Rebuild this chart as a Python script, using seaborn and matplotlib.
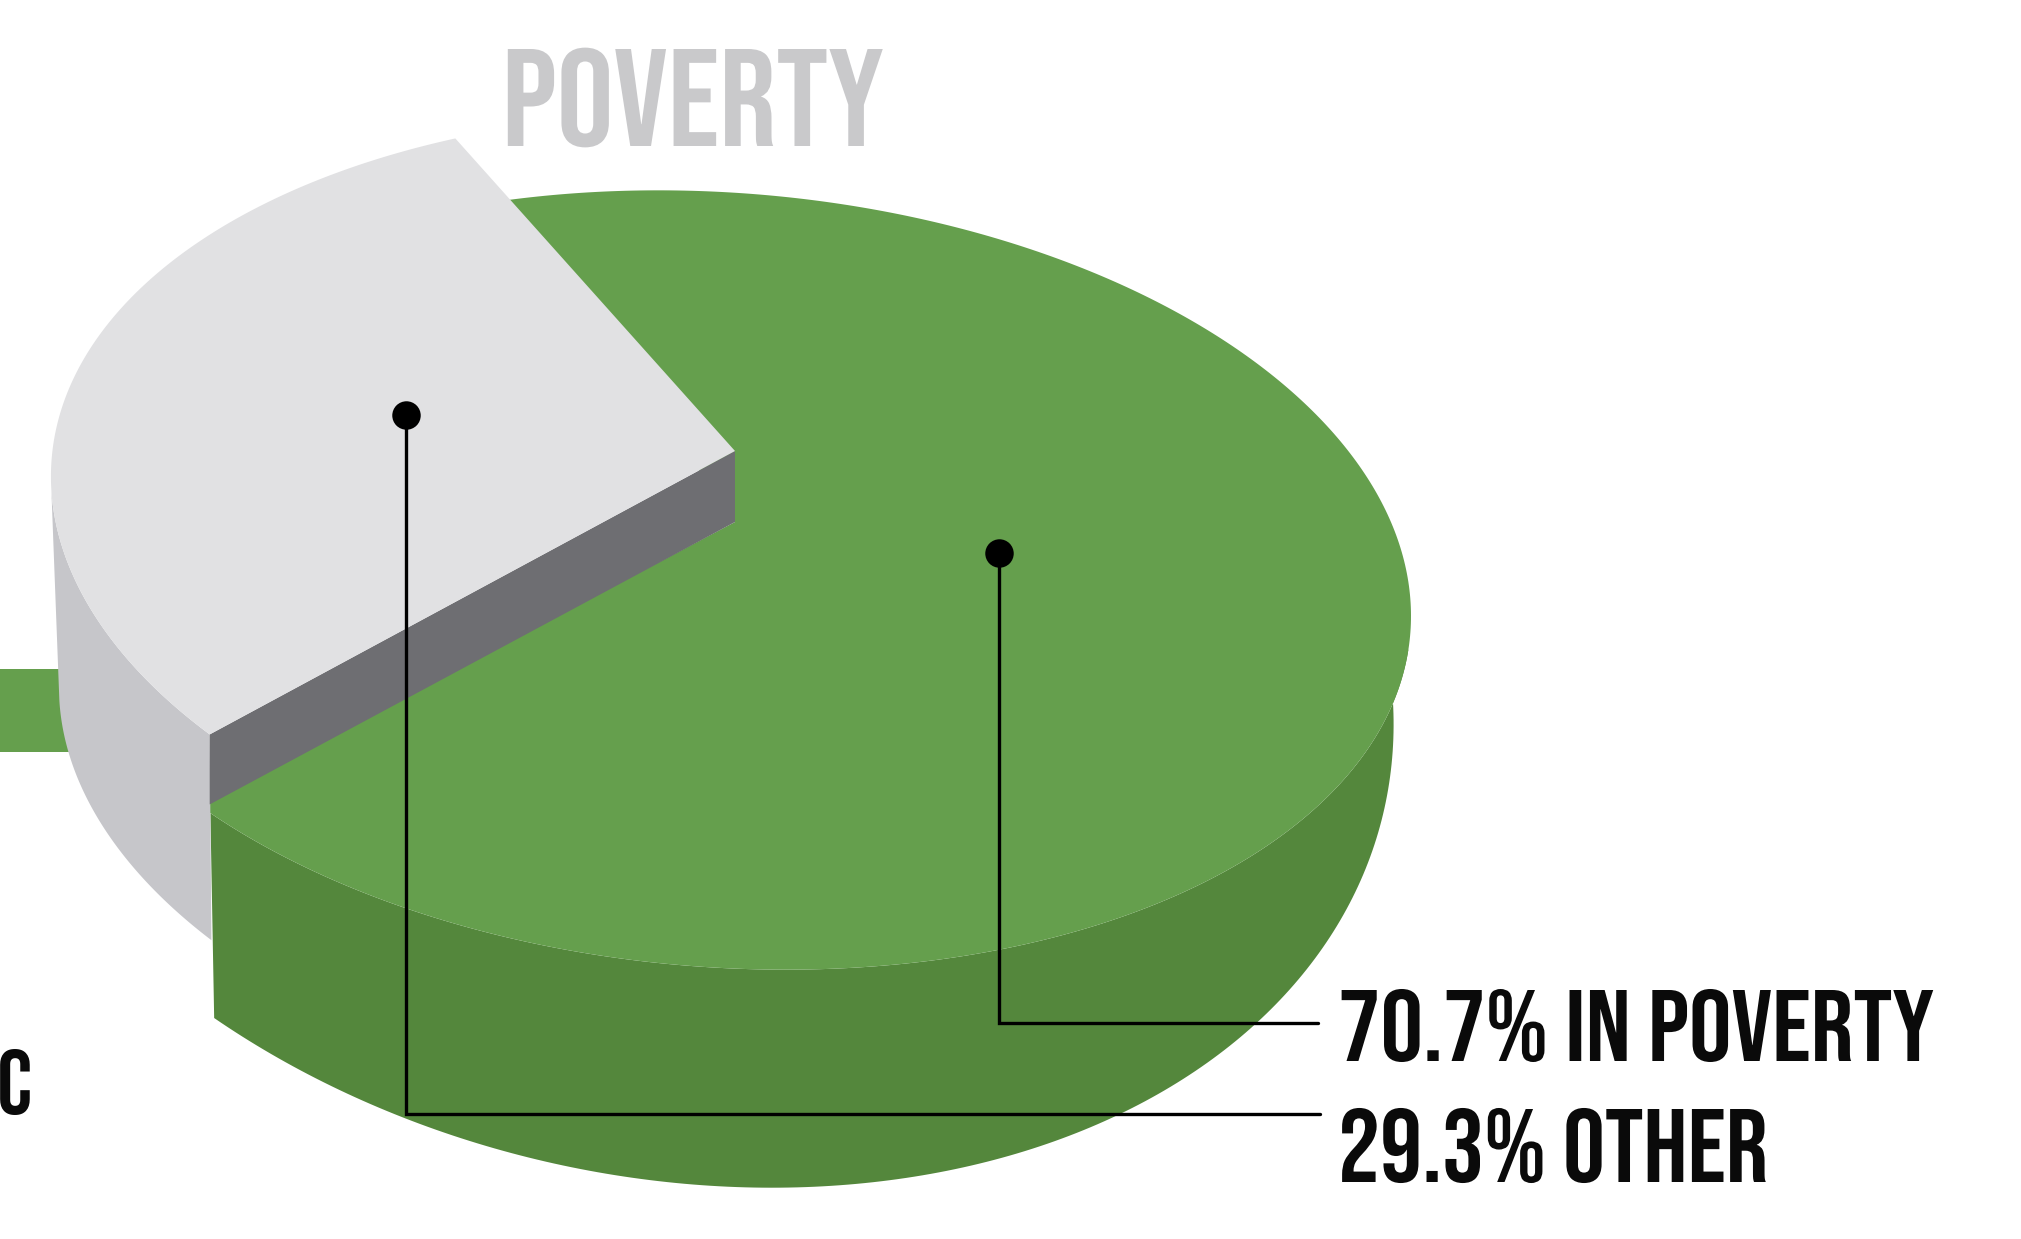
import numpy as np
import matplotlib
matplotlib.use("Agg")
import matplotlib.pyplot as plt
import matplotlib.patheffects as pe
from matplotlib.transforms import Affine2D
import seaborn as sns

# ---- data ----
categories = ["IN POVERTY", "OTHER"]
shares = [70.7, 29.3]
title = "POVERTY"
cut_label = "C"

# ---- style / layout ----
GREEN, GREEN_D = "#659F4D", "#54873C"
GREY, GREY_S, GREY_W = "#E1E1E3", "#C6C6CA", "#6E6E72"
W, H = 2021, 1239
DEG_PER_PCT = 3.5       # the drawn pie shows 350 deg in all
FONT = ["Bebas Neue", "Liberation Sans Narrow", "DejaVu Sans"]

sns.set_theme(style="white")

fig = plt.figure(figsize=(W / 100, H / 100), dpi=100, facecolor="white")
ax = fig.add_axes([0, 0, 1, 1])
ax.set_xlim(0, W)
ax.set_ylim(H, 0)
ax.axis("off")


def arc(cx, cy, sx, skew, sy, t0, t1, n=200):
    t = np.radians(np.linspace(t0, t1, n))
    a, b = np.cos(t), np.sin(t)
    return cx + sx * a, cy + skew * a + sy * b


# green slice
g_start = 252.0
g_end = g_start + shares[0] * DEG_PER_PCT
top = (722, 580, 689, 36, 388)
bot = (663.6, 643.7, 730, 80.6, 538)
tx, ty = arc(*top, 365, g_end - 1.5)
bx, by = arc(*bot, 128, -8)
ax.fill(np.r_[tx, bx], np.r_[ty, by], color=GREEN_D, lw=0, zorder=2)
gx, gy = arc(*top, g_start, g_end, 400)
ax.fill(np.r_[735, gx], np.r_[522, gy], color=GREEN, lw=0, zorder=3)

# grey slice, lifted above the green one
o_start = 141.3
o_end = o_start + shares[1] * DEG_PER_PCT
o_top = (774, 513.5, 1.03 * 702, 1.03 * 36, 1.03 * 388)
o_bot = (782, 724, 1.03 * 702, 1.03 * 36, 1.03 * 388)
tx, ty = arc(*o_top, o_start, o_end)
sx_, sy_ = arc(*o_top, o_start, 178)
bx, by = arc(*o_bot, 178, o_start + 0.8)
ax.fill(np.r_[sx_, bx], np.r_[sy_, by], color=GREY_S, lw=0, zorder=4)
ax.fill([735, tx[0], tx[0], 735], [451, ty[0], ty[0] + 70, 522], color=GREY_W, lw=0, zorder=5)
ax.fill(np.r_[735, tx], np.r_[451, ty], color=GREY, lw=0, zorder=6)

# cropped neighbouring bar
ax.fill([0, 72, 72, 0], [669, 669, 752, 752], color=GREEN, lw=0, zorder=1)

# leaders
anchors_x = [999, 406]
anchors_y = [553, 415]
elbow_y = [1023, 1114]
end_x = [1318, 1320]
for x, y, ey, ex in zip(anchors_x, anchors_y, elbow_y, end_x):
    ax.plot([x, x, ex], [y, ey, ey], color="black", lw=2.4, zorder=7, solid_joinstyle="miter")
sns.scatterplot(x=anchors_x, y=anchors_y, color="black", s=420, linewidth=0, zorder=8, ax=ax, legend=False)


class Stretch(pe.AbstractPathEffect):
    """Scale glyphs horizontally around the left edge of the text."""
    def __init__(self, x0, sx):
        super().__init__()
        self.x0, self.sx = x0, sx

    def draw_path(self, renderer, gc, tpath, affine, rgbFace=None):
        a = affine + Affine2D().translate(-self.x0, 0).scale(self.sx, 1).translate(self.x0, 0)
        renderer.draw_path(gc, tpath, a, rgbFace)


def label(s, x, y_base, cap, width, color):
    t = ax.text(x, y_base, s, family=FONT, color=color, ha="left", va="baseline",
                fontsize=cap / 0.7 * 0.72, zorder=9)
    if width:
        bb = t.get_window_extent(fig.canvas.get_renderer())
        t.set_path_effects([Stretch(bb.x0, width / bb.width)])
    return t


label(title, 502, 146, 97, 382, "#C9C9CB")
label(f"{shares[0]}% {categories[0]}", 1338, 1061, 71, 596, "#0A0A0A")
label(f"{shares[1]}% {categories[1]}", 1338, 1182, 73, 430, "#0A0A0A")
label(cut_label, -3, 1114, 64, None, "#0A0A0A")

fig.savefig("out.png", dpi=100, facecolor="white")
